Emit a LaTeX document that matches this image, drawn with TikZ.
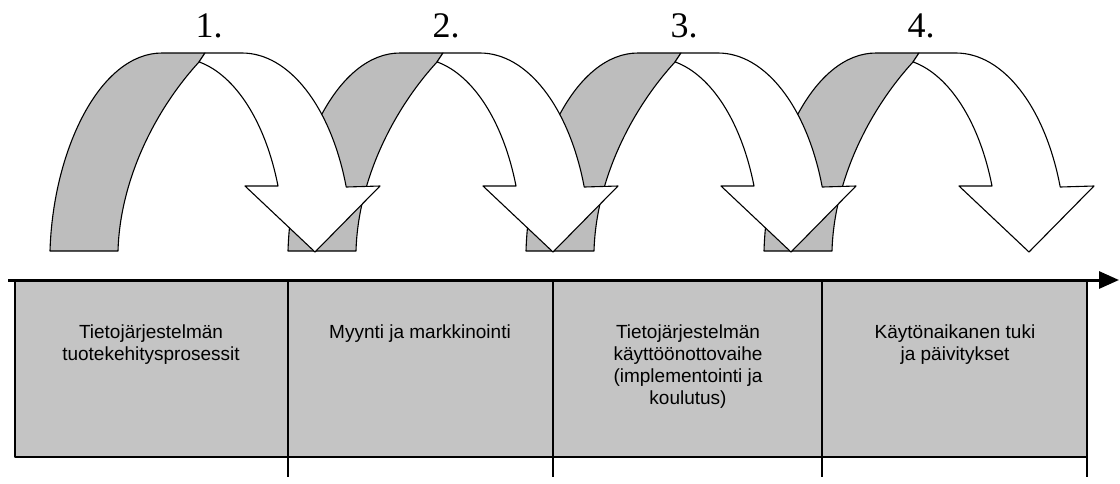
\documentclass[tikz,border=0pt]{standalone}
\usepackage{fontspec}
\setmainfont{Liberation Serif}
\newfontfamily\arialf{Liberation Sans}
\usetikzlibrary{arrows.meta}
\definecolor{halftone}{gray}{0.77}
\definecolor{bandgray}{gray}{0.74}
\begin{document}
\begin{tikzpicture}[x=1pt,y=-1pt,line join=round,
  back/.style={fill=bandgray,draw=black,line width=1.1pt},
  front/.style={fill=white,draw=black,line width=1.1pt},
  num/.style={font=\fontsize{36}{36}\selectfont,anchor=base,inner sep=0pt},
  celltext/.style={font=\arialf\fontsize{19}{21.7}\selectfont,align=center,anchor=north,inner sep=0pt,text=black},
  divider/.style={line width=2.6pt},
  frameline/.style={line width=1.5pt},
  axisline/.style={line width=3pt,-{Triangle[length=20pt,width=17pt]}}]
\useasboundingbox (0,0) rectangle (1120,483);
\fill[white] (0,0) rectangle (1120,483);

% table of phases
\fill[halftone] (15,280) rectangle (1087,457);
\draw[frameline] (15,280) -- (15,457) -- (1087,457);
\foreach \x in {288,553,822,1087} \draw[divider] (\x,280) -- (\x,477);

% time axis
\coordinate (axisL) at (8,280);
\coordinate (axisR) at (1119,280);
\draw[axisline] (axisL) -- (axisR);

% curved arrows, drawn right to left so each covers the next one's foot
\foreach \k in {3,2,1,0} {
  \begin{scope}[xshift=\k*238pt]
    \filldraw[back] (50,251) .. controls (53,150) and (100,53) .. (162,53)
      -- (205,53) -- (199,62) .. controls (155,110) and (120,180) .. (118,251) -- cycle;
    \filldraw[front] (205,53) -- (242,53)
      arc[start angle=-90,end angle=-18.65,x radius=110,y radius=197]
      -- (380,186) -- (315,252) -- (245,186) -- (278,186)
      arc[start angle=-19.5,end angle=-78.6,x radius=106,y radius=192] -- cycle;
  \end{scope}
}

% step numbers
\node[num] (lab1) at (209,37) {1.};
\node[num] (lab2) at (446,37) {2.};
\node[num] (lab3) at (684,37) {3.};
\node[num] (lab4) at (921,37) {4.};

% phase texts
\node[celltext] (t1) at (151,325) {Tietojärjestelmän\\tuotekehitysprosessit};
\node[celltext] (t2) at (420,325) {Myynti ja markkinointi};
\node[celltext] (t3) at (688,325) {Tietojärjestelmän\\käyttöönottovaihe\\(implementointi ja\\koulutus)};
\node[celltext] (t4) at (955,325) {Käytönaikanen tuki\\ja päivitykset};
\end{tikzpicture}
\end{document}
